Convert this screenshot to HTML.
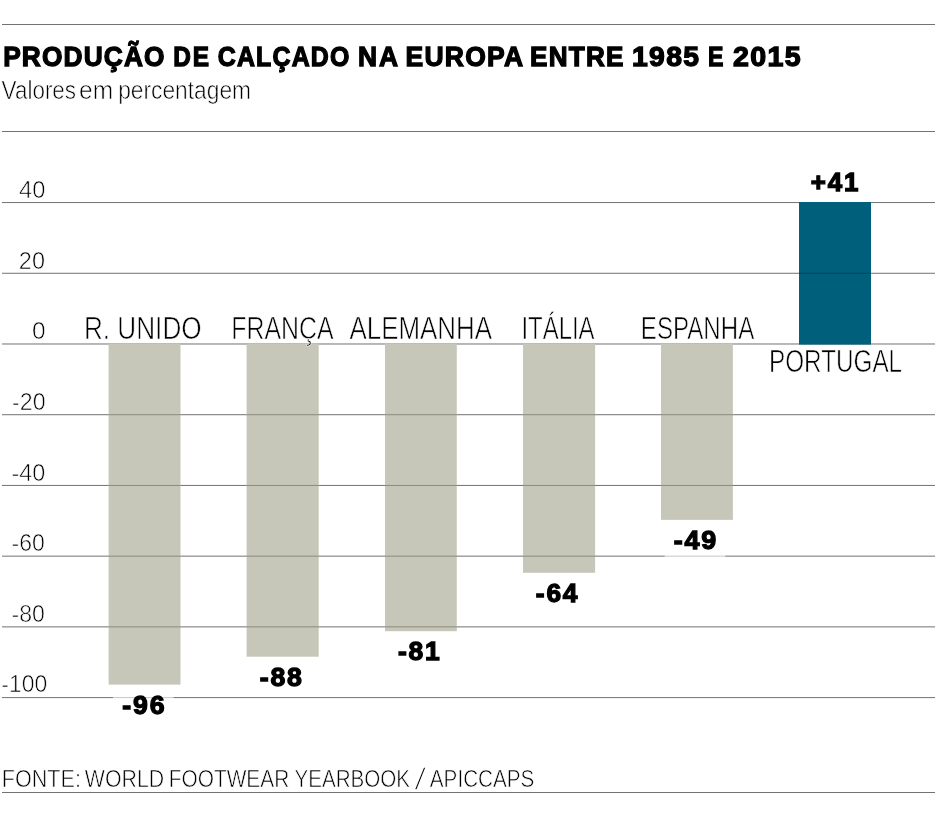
<!DOCTYPE html>
<html lang="pt"><head><meta charset="utf-8"><title>Produção de calçado na Europa entre 1985 e 2015</title>
<style>html,body{margin:0;padding:0;background:#fff}svg{display:block}text{font-family:"Liberation Sans",sans-serif;fill:#000}.b{font-weight:bold;stroke:#000;stroke-width:1.3px;stroke-linejoin:miter;stroke-miterlimit:3}.l{stroke:#fff;stroke-width:0.65px;paint-order:fill stroke}</style></head><body>
<svg width="936" height="813" viewBox="0 0 936 813">
<rect width="936" height="813" fill="#fff"/>
<rect x="2" y="24.00" width="933" height="1.00" fill="#727272"/>
<rect x="2" y="131.00" width="933" height="1.00" fill="#727272"/>
<rect x="2" y="202.05" width="933" height="1.00" fill="#727272"/>
<rect x="2" y="272.77" width="933" height="1.00" fill="#727272"/>
<rect x="2" y="343.49" width="933" height="1.00" fill="#727272"/>
<rect x="2" y="414.21" width="933" height="1.00" fill="#727272"/>
<rect x="2" y="484.93" width="933" height="1.00" fill="#727272"/>
<rect x="2" y="555.65" width="933" height="1.00" fill="#727272"/>
<rect x="2" y="626.37" width="933" height="1.00" fill="#727272"/>
<rect x="2" y="697.09" width="933" height="1.00" fill="#727272"/>
<rect x="108.6" y="343.6" width="71.9" height="341.0" fill="#c7c7b9"/>
<rect x="108.6" y="414.21" width="71.9" height="1" fill="#8a8a7e"/>
<rect x="108.6" y="484.93" width="71.9" height="1" fill="#8a8a7e"/>
<rect x="108.6" y="555.65" width="71.9" height="1" fill="#8a8a7e"/>
<rect x="108.6" y="626.37" width="71.9" height="1" fill="#8a8a7e"/>
<rect x="246.6" y="343.6" width="72.1" height="313.1" fill="#c7c7b9"/>
<rect x="246.6" y="414.21" width="72.1" height="1" fill="#8a8a7e"/>
<rect x="246.6" y="484.93" width="72.1" height="1" fill="#8a8a7e"/>
<rect x="246.6" y="555.65" width="72.1" height="1" fill="#8a8a7e"/>
<rect x="246.6" y="626.37" width="72.1" height="1" fill="#8a8a7e"/>
<rect x="385.0" y="343.6" width="71.8" height="287.6" fill="#c7c7b9"/>
<rect x="385.0" y="414.21" width="71.8" height="1" fill="#8a8a7e"/>
<rect x="385.0" y="484.93" width="71.8" height="1" fill="#8a8a7e"/>
<rect x="385.0" y="555.65" width="71.8" height="1" fill="#8a8a7e"/>
<rect x="385.0" y="626.37" width="71.8" height="1" fill="#8a8a7e"/>
<rect x="523.0" y="343.6" width="72.1" height="229.2" fill="#c7c7b9"/>
<rect x="523.0" y="414.21" width="72.1" height="1" fill="#8a8a7e"/>
<rect x="523.0" y="484.93" width="72.1" height="1" fill="#8a8a7e"/>
<rect x="523.0" y="555.65" width="72.1" height="1" fill="#8a8a7e"/>
<rect x="661.0" y="343.6" width="71.9" height="176.3" fill="#c7c7b9"/>
<rect x="661.0" y="414.21" width="71.9" height="1" fill="#8a8a7e"/>
<rect x="661.0" y="484.93" width="71.9" height="1" fill="#8a8a7e"/>
<rect x="799.0" y="202.0" width="72.0" height="142.6" fill="#00607c"/>
<rect x="799.0" y="272.77" width="72.0" height="1" fill="#00465c"/>
<rect x="112.9" y="689.6" width="60.7" height="33.0" fill="#fff" fill-opacity="0.6"/>
<rect x="250.6" y="661.9" width="61.0" height="33.0" fill="#fff" fill-opacity="0.6"/>
<rect x="388.7" y="635.8" width="60.3" height="33.0" fill="#fff" fill-opacity="0.6"/>
<rect x="526.6" y="577.8" width="61.2" height="33.0" fill="#fff" fill-opacity="0.6"/>
<rect x="664.7" y="524.7" width="60.6" height="33.0" fill="#fff" fill-opacity="0.6"/>
<text transform="translate(3.15 66.05) scale(0.9389 1)" font-size="28.00" textLength="171.86" lengthAdjust="spacing" class="b">PRODUÇÃO</text>
<text transform="translate(173.19 66.05) scale(0.8716 1)" font-size="28.00" textLength="41.20" lengthAdjust="spacing" class="b">DE</text>
<text transform="translate(217.85 66.05) scale(0.8889 1)" font-size="28.00" textLength="147.87" lengthAdjust="spacing" class="b">CALÇADO</text>
<text transform="translate(357.97 66.05) scale(0.9423 1)" font-size="28.00" textLength="42.58" lengthAdjust="spacing" class="b">NA</text>
<text transform="translate(405.61 66.05) scale(0.9471 1)" font-size="28.00" textLength="124.05" lengthAdjust="spacing" class="b">EUROPA</text>
<text transform="translate(530.04 66.05) scale(0.9312 1)" font-size="28.00" textLength="100.28" lengthAdjust="spacing" class="b">ENTRE</text>
<text transform="translate(632.02 66.05) scale(1.0126 1)" font-size="28.00" textLength="66.25" lengthAdjust="spacing" class="b">1985</text>
<text transform="translate(708.09 66.05) scale(0.8263 1)" font-size="28.00" class="b">E</text>
<text transform="translate(732.93 66.05) scale(1.0217 1)" font-size="28.00" textLength="66.21" lengthAdjust="spacing" class="b">2015</text>
<text x="1.61" y="98.73" font-size="25.80" textLength="74.49" lengthAdjust="spacingAndGlyphs" class="l">Valores</text>
<text x="78.99" y="98.73" font-size="25.80" textLength="34.14" lengthAdjust="spacingAndGlyphs" class="l">em</text>
<text x="118.17" y="98.73" font-size="25.80" textLength="132.91" lengthAdjust="spacingAndGlyphs" class="l">percentagem</text>
<text x="1.71" y="786.73" font-size="24.60" textLength="79.25" lengthAdjust="spacingAndGlyphs" class="l">FONTE:</text>
<text x="84.85" y="786.73" font-size="24.60" textLength="79.33" lengthAdjust="spacingAndGlyphs" class="l">WORLD</text>
<text x="168.70" y="786.73" font-size="24.60" textLength="120.56" lengthAdjust="spacingAndGlyphs" class="l">FOOTWEAR</text>
<text x="294.42" y="786.73" font-size="24.60" textLength="115.69" lengthAdjust="spacingAndGlyphs" class="l">YEARBOOK</text>
<text transform="translate(413.72 789.62) scale(1.5214 1)" font-size="30.50" class="l" style="stroke-width:1.5px">/</text>
<text x="429.81" y="786.73" font-size="24.60" textLength="104.58" lengthAdjust="spacingAndGlyphs" class="l">APICCAPS</text>
<text x="19.04" y="198.22" font-size="24.50" textLength="26.35" lengthAdjust="spacingAndGlyphs" class="l">40</text>
<text x="18.85" y="268.72" font-size="24.50" textLength="26.13" lengthAdjust="spacingAndGlyphs" class="l">20</text>
<text transform="translate(31.96 339.32) scale(0.9995 1)" font-size="24.50" class="l">0</text>
<text x="12.03" y="410.02" font-size="24.50" textLength="33.51" lengthAdjust="spacingAndGlyphs" class="l">-20</text>
<text x="11.53" y="480.62" font-size="24.50" textLength="33.90" lengthAdjust="spacingAndGlyphs" class="l">-40</text>
<text x="11.57" y="551.23" font-size="24.50" textLength="33.34" lengthAdjust="spacingAndGlyphs" class="l">-60</text>
<text x="11.57" y="621.83" font-size="24.50" textLength="33.34" lengthAdjust="spacingAndGlyphs" class="l">-80</text>
<text x="1.34" y="692.33" font-size="24.50" textLength="46.03" lengthAdjust="spacingAndGlyphs" class="l">-100</text>
<text x="83.96" y="339.07" font-size="30.50" textLength="117.65" lengthAdjust="spacingAndGlyphs" class="l">R. UNIDO</text>
<text x="231.29" y="339.07" font-size="30.50" textLength="102.32" lengthAdjust="spacingAndGlyphs" class="l">FRANÇA</text>
<text x="349.48" y="339.07" font-size="30.50" textLength="142.48" lengthAdjust="spacingAndGlyphs" class="l">ALEMANHA</text>
<text x="521.44" y="339.07" font-size="30.50" textLength="73.14" lengthAdjust="spacingAndGlyphs" class="l">ITÁLIA</text>
<text x="640.86" y="339.07" font-size="30.50" textLength="113.37" lengthAdjust="spacingAndGlyphs" class="l">ESPANHA</text>
<text x="768.97" y="371.82" font-size="30.50" textLength="133.11" lengthAdjust="spacingAndGlyphs" class="l">PORTUGAL</text>
<text transform="translate(122.35 713.95) scale(1.0033 1)" font-size="26.60" textLength="42.03" lengthAdjust="spacing" class="b">-96</text>
<text transform="translate(259.73 686.25) scale(1.0039 1)" font-size="26.60" textLength="42.02" lengthAdjust="spacing" class="b">-88</text>
<text transform="translate(397.91 660.15) scale(0.9936 1)" font-size="26.60" textLength="42.06" lengthAdjust="spacing" class="b">-81</text>
<text transform="translate(535.82 602.15) scale(0.9906 1)" font-size="26.60" textLength="42.07" lengthAdjust="spacing" class="b">-64</text>
<text transform="translate(673.81 549.05) scale(1.0110 1)" font-size="26.60" textLength="42.00" lengthAdjust="spacing" class="b">-49</text>
<text transform="translate(810.78 190.95) scale(0.9736 1)" font-size="26.60" textLength="48.82" lengthAdjust="spacing" class="b">+41</text>
<rect x="2" y="792.00" width="933" height="1.00" fill="#727272"/>
</svg></body></html>
